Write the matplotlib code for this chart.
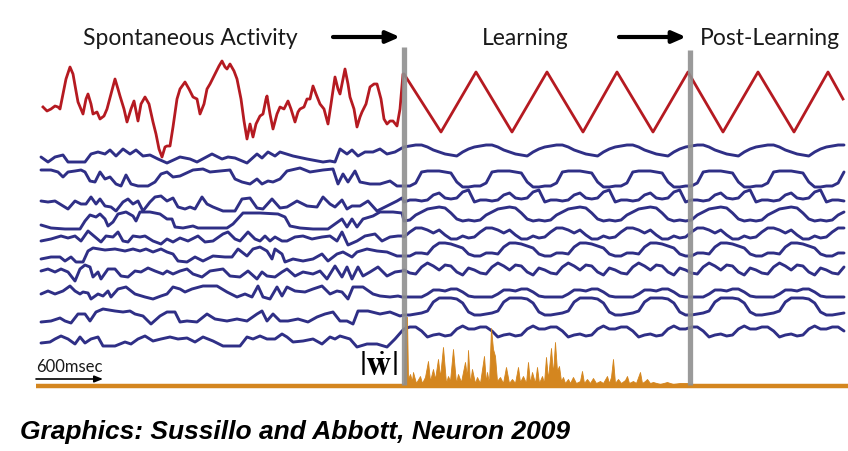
import matplotlib
matplotlib.use("Agg")
import matplotlib.pyplot as plt
import numpy as np

plt.rcParams.update({
    "font.family": ["Lato", "DejaVu Sans"],
    "mathtext.fontset": "stix",
})

RED = "#b51a21"
BLUE = "#2f2f86"
ORANGE = "#d4861f"
GREY = "#8f8f8f"

# phase boundaries (time, in samples of the figure's time axis)
t_learn = 404
t_post = 690
t_end = 844
period = 70.4

# target/readout during spontaneous activity (time, value)
red_spont = [(43,108),(47,112),(51,110),(55,107),(58,108),(60,110),(63,95),(66,80),(70,68),(73,75),
             (76,92),(78,103),(83,115),(86,100),(88,95),(91,105),(93,115),(97,113),(100,120),(104,117),
             (107,110),(111,95),(115,80),(118,90),(120,97),(124,110),(127,123),(131,110),(134,102),(136,112),
             (138,122),(141,105),(145,98),(149,105),(153,123),(156,135),(159,150),(162,158),(165,148),(167,147),
             (170,147),(173,128),(177,100),(180,90),(185,83),(189,90),(193,98),(197,100),(200,115),(204,105),
             (207,90),(210,85),(215,75),(219,67),(222,62),(225,68),(227,70),(230,65),(234,72),(237,80),
             (241,100),(244,122),(247,140),(250,125),(253,138),(256,125),(260,117),(263,115),(266,100),(267,97),
             (270,115),(273,130),(277,115),(280,108),(284,110),(288,102),(291,110),(295,123),(298,113),(300,110),
             (304,108),(307,100),(310,100),(313,87),(316,95),(320,105),(324,110),(328,125),(331,105),(335,78),
             (338,90),(340,95),(343,80),(345,70),(348,85),(350,98),(354,110),(357,128),(360,118),(362,113),
             (366,105),(370,88),(374,85),(377,85),(381,100),(384,120),(387,125),(390,122),(393,122),(397,127),
             (400,110),(403,75)]

# triangle target during learning / post-learning (vertex time, value)
red_tri = [(404,75),(441,133),(476,73),(512,133),(547,73),(583,133),(617,73),(653,133),
           (688,73),(723,133),(758,73),(794,133),(828,73),(843,100)]

# network units, spontaneous phase (time, value)
unit_spont = [
    [(41,158),(48,163),(55,158),(63,156),(68,163),(75,163),(85,163),(91,155),(98,153),(105,155),(110,151),
     (116,157),(123,150),(130,155),(136,151),(143,157),(150,156),(158,160),(167,164),(180,158),(190,160),
     (197,163),(212,155),(222,160),(228,158),(235,159),(247,164),(257,155),(262,159),(268,153),(275,157),
     (280,153),(293,157),(307,160),(323,163),(330,162),(335,163),(340,150),(347,155),(352,151),(358,157),
     (365,153),(373,153),(380,150),(387,155),(395,153),(402,149)],
    [(41,171),(51,171),(58,173),(63,178),(68,173),(75,172),(81,171),(85,173),(90,182),(95,183),(100,173),
     (105,180),(110,178),(116,185),(121,187),(126,176),(131,185),(138,187),(148,187),(155,183),(161,175),
     (167,173),(173,178),(180,177),(193,171),(203,170),(210,173),(220,172),(230,171),(235,180),(242,183),
     (250,185),(257,180),(262,185),(268,182),(273,183),(280,180),(287,172),(300,169),(310,173),(323,171),
     (333,170),(338,185),(343,175),(348,183),(355,172),(360,183),(370,185),(380,185),(390,182),(397,187),
     (402,187)],
    [(41,202),(48,203),(55,202),(63,207),(68,210),(75,202),(81,205),(86,205),(91,198),(96,205),(100,200),
     (105,207),(111,208),(116,212),(123,203),(128,200),(133,205),(138,202),(143,212),(150,203),(155,198),
     (161,197),(167,202),(173,199),(178,208),(185,210),(190,208),(195,210),(202,198),(207,205),(213,208),
     (223,212),(235,212),(242,200),(250,199),(257,209),(263,210),(272,200),(280,209),(287,208),(297,202),
     (307,207),(317,208),(323,198),(330,205),(335,208),(342,201),(347,210),(352,207),(360,207),(368,202),
     (377,212),(387,207),(397,202),(402,199)],
    [(41,226),(51,229),(65,230),(80,230),(85,222),(90,216),(96,218),(100,215),(105,220),(108,227),(113,223),
     (118,215),(126,213),(133,217),(136,222),(140,213),(150,213),(160,215),(167,220),(172,220),(175,228),
     (183,229),(193,227),(198,229),(210,229),(227,229),(233,225),(243,214),(260,214),(278,215),(285,218),
     (290,227),(300,229),(313,230),(328,230),(335,225),(342,220),(347,228),(352,220),(357,228),(363,220),
     (373,217),(380,213),(393,213),(402,214)],
    [(41,242),(51,240),(61,237),(68,239),(75,237),(81,242),(88,232),(95,238),(101,243),(106,237),(113,238),
     (118,233),(123,242),(128,243),(133,237),(140,238),(145,237),(153,242),(161,245),(167,240),(173,243),
     (180,239),(188,242),(198,237),(205,243),(213,242),(223,235),(228,233),(235,240),(240,242),(248,233),
     (255,240),(260,242),(265,237),(270,242),(275,238),(282,242),(287,242),(295,238),(303,237),(312,240),
     (322,238),(330,237),(337,242),(342,233),(348,246),(357,242),(365,237),(375,235),(382,242),(390,238),
     (398,237),(402,237)],
    [(41,260),(51,258),(60,258),(65,262),(71,258),(76,263),(83,263),(88,252),(93,249),(105,251),(115,250),
     (125,252),(133,250),(140,252),(146,250),(153,253),(161,250),(167,253),(173,255),(178,262),(187,263),
     (195,258),(203,262),(213,257),(225,258),(232,258),(238,250),(247,257),(253,250),(260,248),(267,252),
     (272,260),(275,250),(282,255),(285,263),(293,260),(303,262),(313,260),(322,255),(328,262),(337,255),
     (343,253),(352,258),(357,253),(367,250),(377,252),(387,253),(397,257),(402,257)],
    [(41,272),(48,270),(55,273),(61,270),(68,273),(75,282),(80,270),(85,266),(90,268),(93,278),(98,273),
     (101,280),(108,270),(115,270),(121,277),(128,278),(135,272),(141,273),(148,269),(155,272),(163,275),
     (167,272),(173,275),(180,272),(187,270),(193,275),(202,278),(210,272),(223,270),(230,277),(240,278),
     (248,272),(257,280),(262,273),(267,277),(275,278),(282,273),(287,270),(295,277),(303,273),(313,275),
     (320,272),(327,280),(335,267),(342,278),(347,268),(352,280),(358,268),(363,277),(370,273),(378,268),
     (387,277),(395,273),(402,272)],
    [(41,295),(48,292),(55,295),(63,292),(70,287),(75,292),(80,295),(83,293),(88,294),(91,300),(98,295),
     (103,297),(108,292),(111,298),(118,290),(126,288),(135,295),(145,298),(153,300),(161,297),(167,295),
     (173,288),(180,290),(185,293),(192,290),(203,287),(217,287),(227,293),(237,298),(245,295),(252,298),
     (258,287),(263,298),(270,300),(277,288),(282,297),(287,288),(295,292),(305,293),(313,290),(322,287),
     (330,295),(337,292),(342,293),(348,300),(353,288),(363,288),(373,295),(380,297),(390,298),(398,297),
     (402,298)],
    [(41,323),(51,322),(60,319),(65,322),(71,324),(78,315),(85,315),(90,322),(96,313),(103,310),(115,312),
     (123,313),(130,312),(135,315),(143,317),(151,325),(160,317),(167,313),(175,313),(180,323),(187,322),
     (197,323),(207,315),(215,320),(227,322),(237,320),(247,322),(257,315),(262,312),(267,322),(273,315),
     (280,322),(288,322),(298,320),(308,323),(317,318),(325,315),(333,313),(340,322),(347,322),(353,325),
     (358,312),(368,312),(380,315),(390,313),(400,317)],
    [(41,344),(50,343),(55,340),(61,337),(68,340),(75,345),(80,338),(85,344),(91,340),(98,338),(103,347),
     (115,347),(125,343),(131,345),(138,340),(145,337),(153,342),(161,340),(170,338),(178,340),(187,339),
     (195,343),(203,338),(213,342),(223,347),(240,347),(247,338),(253,340),(260,337),(267,340),(275,340),
     (282,335),(287,338),(293,343),(303,342),(313,340),(322,345),(330,338),(335,340),(340,337),(350,340),
     (357,348),(367,345),(377,345),(387,348),(395,340),(402,332)],
]

# one period of each unit once the network is trained (12 samples per period)
unit_cycle = [
    [148,147,146,146,148,151,153,155,156,157,153,150],
    [187,187,184,173,172,172,172,173,174,183,188,188],
    [203,201,201,202,201,196,194,199,200,199,193,191],
    [222,221,216,213,210,209,208,209,214,220,222,221],
    [238,233,229,229,231,234,231,236,240,240,237,239],
    [257,257,254,254,255,248,244,244,245,247,249,255],
    [271,274,275,268,264,267,271,266,267,273,276,269],
    [298,298,298,298,295,291,291,292,290,290,293,297],
    [316,316,315,314,312,303,299,299,299,300,304,313],
    [330,328,328,332,338,336,335,337,336,330,327,330],
]

# |dw/dt| during learning (time, value)
wdot = [(404,386),(405,318),(407,318),(408,380),(410,375),(412,382),(413,373),(416,384),(420,377),(422,384),
        (425,378),(428,362),(430,382),(433,370),(435,380),(438,360),(440,378),(443,348),(446,384),(448,377),
        (450,382),(453,350),(456,384),(458,375),(461,383),(465,363),(467,378),(468,351),(470,384),(472,370),
        (475,384),(477,378),(480,384),(484,357),(486,384),(487,373),(489,384),(491,329),(493,350),(495,357),
        (497,382),(500,378),(503,384),(506,368),(509,384),(512,380),(515,384),(518,368),(520,383),(523,377),
        (526,384),(528,363),(530,384),(532,373),(535,384),(537,368),(539,384),(542,377),(544,384),(546,358),
        (548,380),(551,349),(553,375),(555,343),(557,372),(559,367),(561,382),(563,378),(565,384),(568,380),
        (570,384),(573,378),(576,384),(580,382),(582,372),(584,384),(587,380),(590,384),(593,379),(596,384),
        (600,382),(603,384),(607,377),(609,384),(611,378),(613,360),(615,384),(618,380),(621,384),(625,381),
        (627,377),(629,384),(633,382),(636,384),(640,373),(642,384),(645,382),(647,380),(650,384),(653,383),
        (660,385),(667,383),(673,385),(680,384),(687,384),(690,386)]
wdot_base = 386

fig = plt.figure(figsize=(8.48, 4.52), dpi=100)
ax = fig.add_axes([0, 0, 1, 1])
ax.set_xlim(0, 848)
ax.set_ylim(452, 0)
ax.axis("off")

# spontaneous + trained units
n_tr = 76
t_tr = t_learn + np.arange(n_tr) * period / 12
for spont, cyc in zip(unit_spont, unit_cycle):
    ts, vs = zip(*spont)
    vals = np.tile(cyc, n_tr // 12 + 1)[:n_tr]
    t_all = np.concatenate([ts, t_tr])
    v_all = np.concatenate([vs, vals])
    ax.plot(t_all, v_all, color=BLUE, lw=2.1, solid_joinstyle="round",
            solid_capstyle="round", zorder=2)

# readout
ts, vs = zip(*(red_spont + red_tri))
ax.plot(ts, vs, color=RED, lw=2.0, solid_joinstyle="round", zorder=3)

# weight change
tw, vw = zip(*wdot)
ax.fill_between(tw, wdot_base, vw, color=ORANGE, lw=0.6, edgecolor=ORANGE, zorder=2)
ax.plot([36, 848], [wdot_base + 1, wdot_base + 1], color=ORANGE, lw=3.2, solid_capstyle="butt", zorder=2)

# phase separators
for xb, ytop in [(t_learn, 48), (t_post, 51)]:
    ax.plot([xb, xb], [ytop, wdot_base], color=GREY, lw=3.8, alpha=0.9,
            solid_capstyle="butt", zorder=4)

# phase labels
ax.text(190, 45, "Spontaneous Activity", fontsize=16.5, ha="center", va="baseline", color="#1a1a1a")
ax.text(525, 45, "Learning", fontsize=16.5, ha="center", va="baseline", color="#1a1a1a")
ax.text(770, 45, "Post-Learning", fontsize=16.5, ha="center", va="baseline", color="#1a1a1a")
for x0, x1 in [(333, 400), (619, 686)]:
    ax.annotate("", xy=(x1, 38), xytext=(x0, 38),
                arrowprops=dict(arrowstyle="-|>,head_length=0.8,head_width=0.35",
                                lw=3, color="black", shrinkA=0, shrinkB=0))

# scale bar
ax.text(36, 372, "600msec", fontsize=12, ha="left", va="baseline", color="#1a1a1a")
ax.annotate("", xy=(103, 380), xytext=(36, 380),
            arrowprops=dict(arrowstyle="-|>,head_length=0.5,head_width=0.2",
                            lw=1.2, color="black", shrinkA=0, shrinkB=0))

ax.text(378, 366, r"$|\dot{\mathbf{w}}|$", fontsize=25, ha="center", va="center", color="black")

ax.text(20, 432, "Graphics: Sussillo and Abbott, Neuron 2009", fontsize=19,
        family="Liberation Sans", weight="bold", style="italic", ha="left", va="center")

fig.savefig("out.png", dpi=100)
